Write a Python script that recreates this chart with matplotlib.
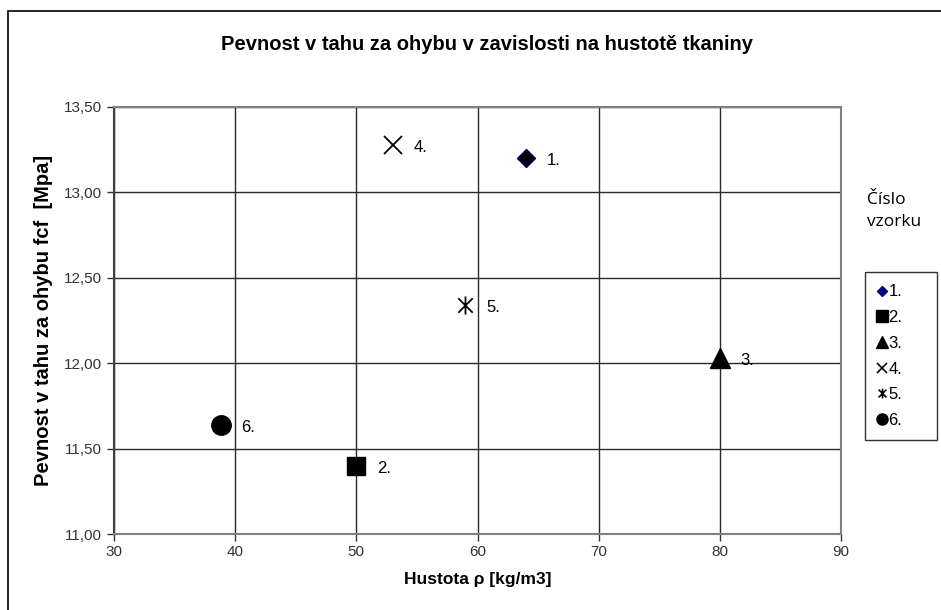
import matplotlib.pyplot as plt
from matplotlib.lines import Line2D
from matplotlib.patches import Rectangle
from matplotlib.path import Path

plt.rcParams['font.family'] = ['Liberation Sans', 'DejaVu Sans']

# hustota [kg/m3] a pevnost [MPa] pro vzorky 1-6
vzorky = ['1.', '2.', '3.', '4.', '5.', '6.']
hustota = [64, 50, 80, 53, 59, 38.8]
pevnost = [13.20, 11.40, 12.03, 13.28, 12.34, 11.64]

# star marker: an x with a vertical stroke through it
star = Path([(-1, -1), (1, 1), (-1, 1), (1, -1), (0, -1.25), (0, 1.25)],
            [Path.MOVETO, Path.LINETO, Path.MOVETO, Path.LINETO, Path.MOVETO, Path.LINETO])

markers = ['D', 's', '^', 'x', star, 'o']
sizes = [9, 13.5, 14, 13, 13, 14]
leg_sizes = [5.5, 8, 8, 7, 7, 8]

fig = plt.figure(figsize=(9.41, 6.10), dpi=100)
ax = fig.add_axes([114 / 941, 1 - 534 / 610, (841 - 114) / 941, (534 - 107) / 610])

# outer chart border (left and top edges visible)
fig.patches.append(Rectangle((8 / 941, -0.1), 1.2, (610 - 11) / 610 + 0.1,
                             transform=fig.transFigure, fill=False,
                             edgecolor='black', linewidth=1.2))

handles = []
for i in range(len(vzorky)):
    line_marker = markers[i] in ('x',) or markers[i] is star
    edge = '#000080' if markers[i] == 'D' else 'black'
    mew = 1.3 if line_marker else 1
    ax.plot(hustota[i], pevnost[i], linestyle='none', marker=markers[i],
            markersize=sizes[i], markerfacecolor='black', markeredgecolor=edge,
            markeredgewidth=mew, zorder=3)
    ax.annotate(vzorky[i], (hustota[i], pevnost[i]), xytext=(15, -5),
                textcoords='offset points', fontsize=12)
    lface = '#000080' if markers[i] == 'D' else 'black'
    handles.append(Line2D([], [], linestyle='none', marker=markers[i],
                          markersize=leg_sizes[i], markerfacecolor=lface,
                          markeredgecolor=lface, markeredgewidth=1.2 if line_marker else 1,
                          label=vzorky[i]))

ax.set_xlim(30, 90)
ax.set_ylim(11.0, 13.5)
ax.set_xticks(range(30, 91, 10))
ax.set_yticks([11.0, 11.5, 12.0, 12.5, 13.0, 13.5])
ax.set_yticklabels(['11,00', '11,50', '12,00', '12,50', '13,00', '13,50'])
ax.tick_params(labelsize=11, colors='#333333', length=5, width=1, direction='out')
ax.tick_params(axis='x', pad=3)
ax.grid(True, color='#2a2a2a', linewidth=1)
ax.set_axisbelow(True)
for side in ['left', 'bottom', 'right', 'top']:
    ax.spines[side].set_color('#808080')
    ax.spines[side].set_linewidth(1.5)
ax.spines['left'].set_color('#404040')

ax.set_xlabel('Hustota ρ [kg/m3]', fontsize=12.5, fontweight='bold', labelpad=9)
ax.set_ylabel('Pevnost v tahu za ohybu fcf  [Mpa]', fontsize=14.5,
              fontweight='bold', labelpad=8)
fig.text(487 / 941, 1 - 45 / 610, 'Pevnost v tahu za ohybu v zavislosti na hustotě tkaniny',
         ha='center', va='center', fontsize=14.5, fontweight='bold')

fig.text(867 / 941, 1 - 200 / 610, 'Číslo', fontsize=12.5, family=['Open Sans', 'DejaVu Sans'],
         va='center', ha='left')
fig.text(867 / 941, 1 - 222 / 610, 'vzorku', fontsize=12.5, family=['Open Sans', 'DejaVu Sans'],
         va='center', ha='left')

leg = fig.legend(handles=handles, loc='upper left',
                 bbox_to_anchor=(865 / 941, 1 - 272 / 610, 72 / 941, 0),
                 mode='expand', fontsize=12, frameon=True, fancybox=False,
                 handlelength=0.5, handletextpad=0.15, borderpad=0.75,
                 labelspacing=0.64, borderaxespad=0)
leg.get_frame().set_edgecolor('black')
leg.get_frame().set_linewidth(1)

fig.savefig('out.png', dpi=100)
